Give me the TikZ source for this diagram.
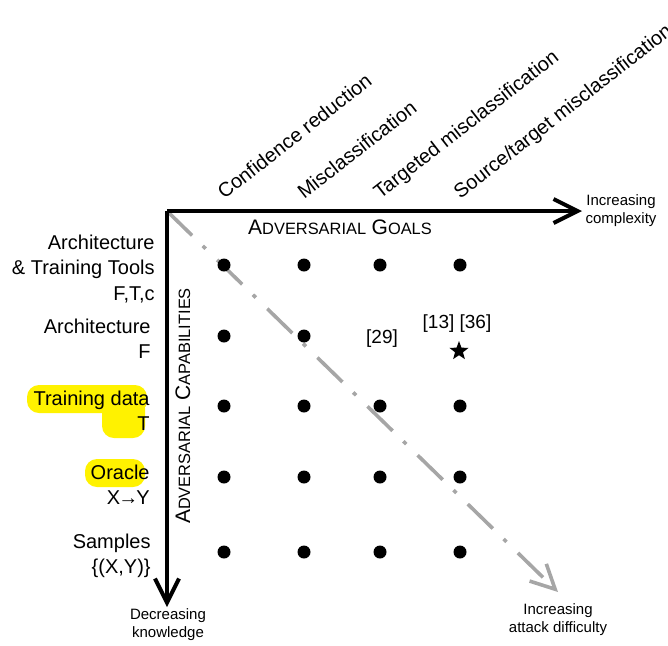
\documentclass[tikz,border=0pt]{standalone}
\usepackage{fontspec}
\setmainfont{Liberation Sans}
\usetikzlibrary{arrows.meta,shapes}

\newcommand{\capsc}[2]{{\fontsize{10.5}{12}\selectfont #1}{\fontsize{8.2}{10}\selectfont #2}}

\begin{document}
\begin{tikzpicture}[x=0.5pt,y=-0.5pt,>={Straight Barb[length=12pt,width=12pt]}]
\tikzstyle{dot}=[circle,fill=black,inner sep=0pt,minimum size=6.5pt]
\tikzstyle{goal}=[rotate=38,anchor=base west,inner sep=0pt,font=\fontsize{10}{12}\selectfont]
\tikzstyle{capab}=[anchor=east,align=right,inner sep=0pt,font=\fontsize{10}{12.7}\selectfont]
\tikzstyle{note}=[align=center,inner sep=0pt,font=\fontsize{7.5}{9}\selectfont]
\tikzstyle{ref}=[inner sep=0pt,font=\fontsize{9.5}{11}\selectfont]
\tikzstyle{axis}=[->,line width=2pt]
\tikzstyle{hilite}=[fill=yellow,rounded corners=6pt]

\useasboundingbox (0,0) rectangle (668,645);

% highlighter marks
\fill[hilite] (27,385) rectangle (147,413);
\fill[hilite] (102,396) rectangle (145,438);
\fill[hilite] (85,459) rectangle (145,487);

\coordinate (O) at (167,211);
\coordinate (gend) at (582,211);
\coordinate (kend) at (167,607);
\coordinate (dend) at (558,592);

\draw[->,gray!70,line width=1.8pt,dash pattern=on 17.5pt off 7.5pt on 2pt off 8pt] (O) -- (dend);
\draw[axis] (O) -- (gend);
\draw[axis] (O) -- (kend);

\node[goal] (g1) at (224,200) {Confidence reduction};
\node[goal] (g2) at (304,200) {Misclassification};
\node[goal] (g3) at (380,200) {Targeted misclassification};
\node[goal] (g4) at (460,200) {Source/target misclassification};

\node[capab] (c1) at (155,269) {Architecture\\\& Training Tools\\F,T,c};
\node[capab] (c2) at (151,339) {Architecture\\F};
\node[capab] (c3) at (150,411) {Training data\\T};
\node[capab] (c4) at (150,485) {Oracle\\X\kern-1pt→\kern-1ptY};
\node[capab] (c5) at (151,556) {Samples\\\{(X,Y)\}};

\node[anchor=base,inner sep=0pt] (goals) at (340,234) {\capsc{A}{DVERSARIAL} \capsc{G}{OALS}};
\node[rotate=90,anchor=base,inner sep=0pt] (capabs) at (190,406) {\capsc{A}{DVERSARIAL} \capsc{C}{APABILITIES}};

\node[note] (cmplx) at (621,211) {Increasing\\complexity};
\node[note] (knowl) at (168,625) {Decreasing\\knowledge};
\node[note] (diffc) at (558,620) {Increasing\\attack difficulty};

% capability / goal grid
\node[dot] (d11) at (224,265) {};
\node[dot] (d12) at (304,265) {};
\node[dot] (d13) at (380,265) {};
\node[dot] (d14) at (460,265) {};
\node[dot] (d21) at (224,336) {};
\node[dot] (d22) at (304,336) {};
\node[ref] (r23) at (382,339) {[29]};
\node[ref] (r24) at (457,324) {[13] [36]};
\node[star,star points=5,star point ratio=2.4,fill=black,inner sep=0pt,minimum size=10pt] (s24) at (459,351) {};
\node[dot] (d31) at (224,406) {};
\node[dot] (d32) at (304,406) {};
\node[dot] (d33) at (380,406) {};
\node[dot] (d34) at (460,406) {};
\node[dot] (d41) at (224,477) {};
\node[dot] (d42) at (304,477) {};
\node[dot] (d43) at (380,477) {};
\node[dot] (d44) at (460,477) {};
\node[dot] (d51) at (224,552) {};
\node[dot] (d52) at (304,552) {};
\node[dot] (d53) at (380,552) {};
\node[dot] (d54) at (460,552) {};
\end{tikzpicture}
\end{document}
